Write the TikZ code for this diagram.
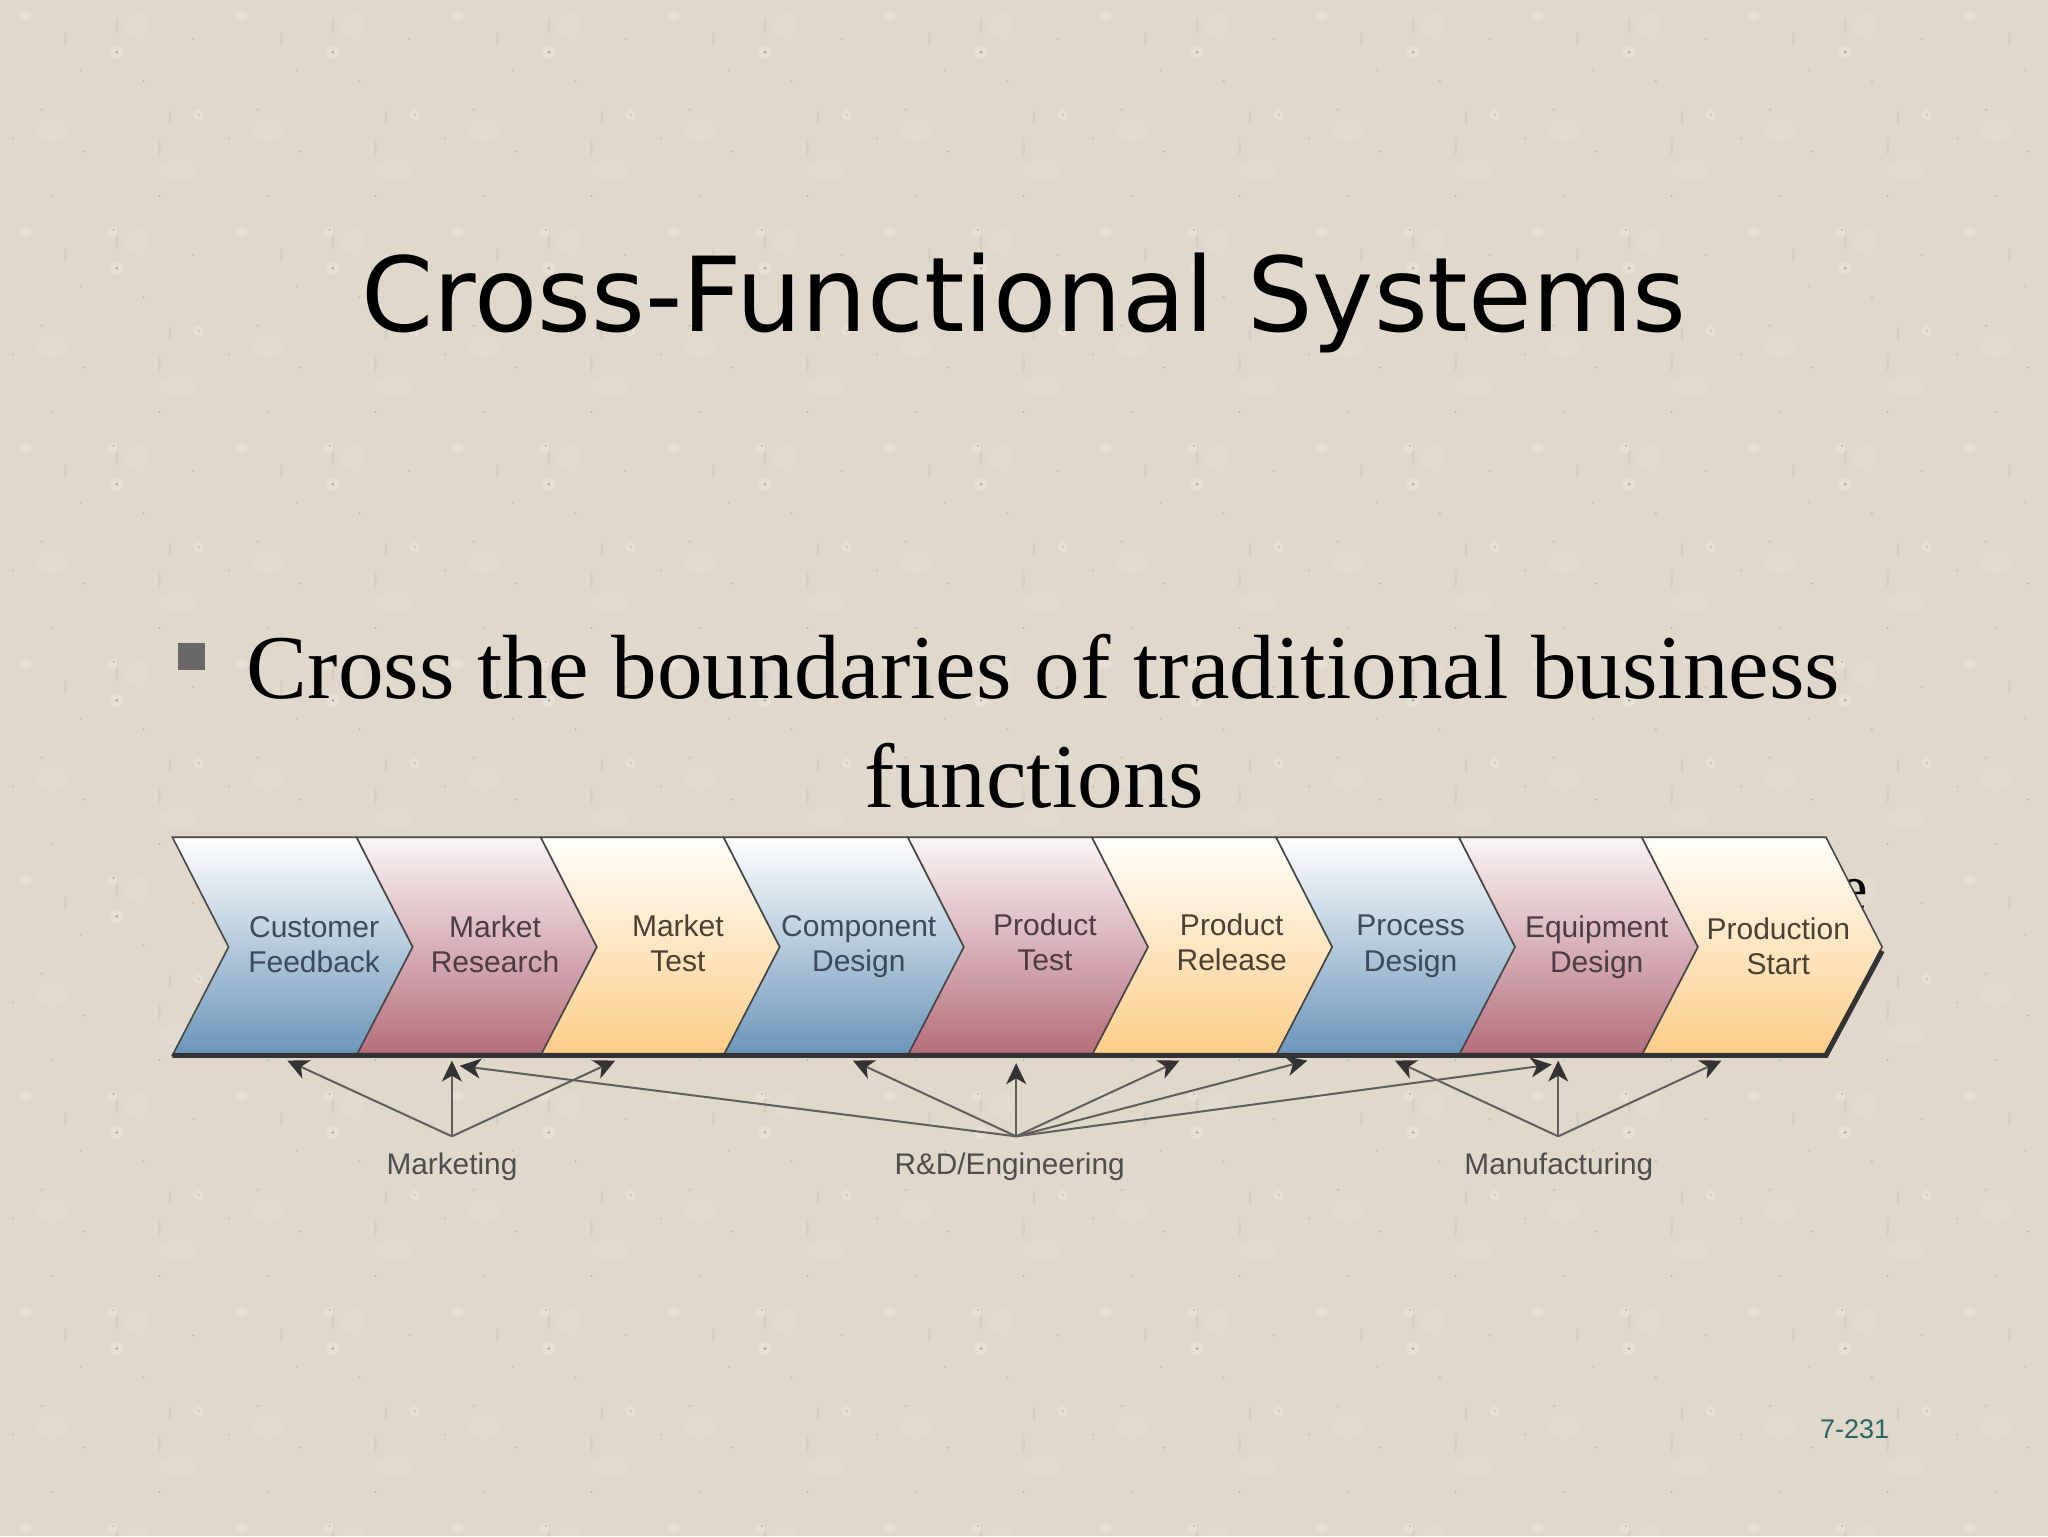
\documentclass[tikz,border=0pt]{standalone}
\usepackage{fontspec}
\setmainfont{Liberation Serif}
\newfontfamily\titlefont{DejaVu Sans}
\newfontfamily\labelfont{Liberation Sans}
\usetikzlibrary{arrows.meta}
\definecolor{bgbeige}{HTML}{DFD8CB}
\definecolor{edgegrey}{HTML}{474747}
\definecolor{linkgrey}{HTML}{5F5F5C}
\definecolor{headgrey}{HTML}{333333}
\definecolor{labelgrey}{HTML}{4E4E4E}
\definecolor{pagenum}{HTML}{2B6463}
\definecolor{bulletgrey}{HTML}{696767}
\definecolor{blueA}{HTML}{FFFFFF}\definecolor{blueB}{HTML}{B6CADD}\definecolor{blueC}{HTML}{6A95B9}
\definecolor{redA}{HTML}{FAF5F5}\definecolor{redB}{HTML}{D9B2BA}\definecolor{redC}{HTML}{B56D7C}
\definecolor{orgA}{HTML}{FFFEFA}\definecolor{orgB}{HTML}{FFE9C8}\definecolor{orgC}{HTML}{FDCD88}
\definecolor{textblue}{HTML}{3C4A5C}
\definecolor{textred}{HTML}{4C3C46}
\definecolor{textorg}{HTML}{4A4034}
\tikzset{
  bluefill/.style={top color=blueA,middle color=blueB,bottom color=blueC},
  redfill/.style={top color=redA,middle color=redB,bottom color=redC},
  orgfill/.style={top color=orgA,middle color=orgB,bottom color=orgC},
  chevron/.style={draw=edgegrey,line width=0.8pt,line join=miter},
  steplabel/.style={font=\labelfont\fontsize{15}{17.6}\selectfont,align=center,text=#1,inner sep=0pt},
  grouplabel/.style={font=\labelfont\fontsize{14.9}{17}\selectfont,text=labelgrey,inner sep=0pt},
  link/.style={draw=linkgrey,line width=1pt,-{Stealth[length=10.5pt,width=10pt,inset=3pt,color=headgrey]}},
  halo/.style={fill=white,opacity=.22},
  speck/.style={fill=black!60,opacity=.32},
  patch/.style={fill=white,opacity=.10},
  dashv/.style={fill=black!50,opacity=.10},
}
\begin{document}
\begin{tikzpicture}[x=0.65306pt,y=-0.65306pt]
\useasboundingbox (0,0) rectangle (1568,1176);
\fill[bgbeige] (0,0) rectangle (1568,1176);
% paper texture
\foreach \i in {0,...,9}{\foreach \j in {0,...,7}{
  \begin{scope}[shift={({\i*165.4},{\j*165.4})}]
    \path[halo] (89.5,40) circle (5);
    \path[speck,opacity=.55] (89.5,40) circle (1);
    \path[halo] (19,12) ellipse (5 and 3);
    \path[halo] (86,178) circle (4);
    \path[speck] (87,176) circle (.9);
    \path[halo] (152,88) circle (4);
    \path[speck] (152,88) circle (.8);
    \path[speck] (32,84) circle (.7);
    \path[speck] (62,54) circle (.7);
    \path[speck] (110,62) circle (.7);
    \path[speck] (10,106) circle (.7);
    \path[speck] (64,116) circle (.8);
    \path[speck] (122,150) circle (.8);
    \path[speck] (148,30) circle (.7);
    \path[speck] (40,150) circle (.7);
    \path[dashv] (122,112) ellipse (1 and 7);
    \path[dashv] (130,90) ellipse (1 and 6);
    \path[dashv] (50,30) ellipse (1 and 6);
    \path[dashv] (255-165.4,20) ellipse (1 and 6);
    \path[patch] (40,100) ellipse (12 and 9);
    \path[patch] (136,130) ellipse (14 and 8);
    \path[patch] (105,20) ellipse (9 and 10);
  \end{scope}}}
% texts under the figure
\node[font=\titlefont\fontsize{51.7}{56}\selectfont,text=black,inner sep=0pt,anchor=base] (title) at (784,254) {Cross-Functional Systems};
\fill[bulletgrey] (136,492) rectangle (157,513);
\node[font=\fontsize{45.6}{54}\selectfont,text=black,inner sep=0pt,anchor=base] (bodya) at (799,535) {Cross the boundaries of traditional business};
\node[font=\fontsize{45.6}{54}\selectfont,text=black,inner sep=0pt,anchor=base] (bodyb) at (792,618) {functions};
\node[font=\fontsize{32}{38}\selectfont,text=black,inner sep=0pt,anchor=base] (hiddenletter) at (1419.5,696) {e};
\node[font=\labelfont\fontsize{13.5}{16}\selectfont,text=pagenum,inner sep=0pt] (page) at (1420,1094) {7-231};
% shadow under the chevrons
\coordinate (sa) at (132,808);
\coordinate (sb) at (1398,808);
\coordinate (sc) at (1441,728);
% chevrons
\foreach \nm/\xa/\xb/\fillst in {
  cf/132/273/bluefill, mr/273/414/redfill, mt/414/554/orgfill,
  cd/554/695/bluefill, pt/695/836/redfill, pr/836/977/orgfill,
  pd/977/1117/bluefill, ed/1117/1257/redfill, ps/1257/1398/orgfill}{
  \path[chevron,\fillst] (\xa,641) -- (\xb,641) -- (\xb+43,725) -- (\xb,808) -- (\xa,808) -- (\xa+43,725) -- cycle;
}
\draw[line width=2.6pt,draw=headgrey,line join=miter] (sa) -- (sb) -- (sc);
% step labels
\node[steplabel=textblue] (lcf) at (240.5,723) {Customer\\Feedback};
\node[steplabel=textred] (lmr) at (379,723) {Market\\Research};
\node[steplabel=textorg] (lmt) at (519,722) {Market\\Test};
\node[steplabel=textblue] (lcd) at (657.5,725) {Component\\Design};
\node[steplabel=textred] (lpt) at (800,721.5) {Product\\Test};
\node[steplabel=textorg] (lpr) at (943,721.5) {Product\\Release};
\node[steplabel=textblue] (lpd) at (1080,724.5) {Process\\Design};
\node[steplabel=textred] (led) at (1222.5,725.5) {Equipment\\Design};
\node[steplabel=textorg] (lps) at (1361.5,724.5) {Production\\Start};
% group labels
\node[grouplabel] (marketing) at (346,893.5) {Marketing};
\node[grouplabel] (rnd) at (773,893.5) {R\&D/Engineering};
\node[grouplabel] (manuf) at (1193.5,893.5) {Manufacturing};
% connector ends
\coordinate (smk) at (346,870);
\coordinate (srd) at (778,870);
\coordinate (smf) at (1193,870);
\coordinate (t1) at (220,812);
\coordinate (t2) at (346,812);
\coordinate (t3) at (471,812);
\coordinate (t4) at (352,816);
\coordinate (t5) at (653,812);
\coordinate (t6) at (778,814);
\coordinate (t7) at (903,812);
\coordinate (t8) at (1001,812);
\coordinate (t9) at (1188,815);
\coordinate (t10) at (1068,812);
\coordinate (t11) at (1193,812);
\coordinate (t12) at (1318,812);
\foreach \s/\t in {smk/t1,smk/t2,smk/t3,srd/t4,srd/t5,srd/t6,srd/t7,srd/t8,srd/t9,smf/t10,smf/t11,smf/t12}
  \draw[link] (\s) -- (\t);
\end{tikzpicture}
\end{document}
